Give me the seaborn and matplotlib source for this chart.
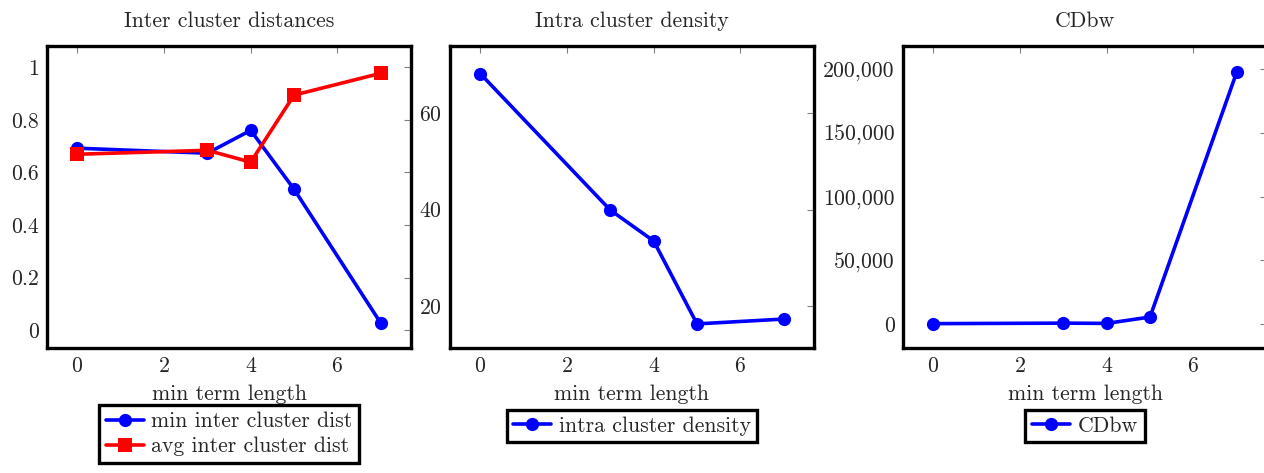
import matplotlib
matplotlib.use("Agg")
import matplotlib.pyplot as plt
from matplotlib.ticker import FuncFormatter, MultipleLocator
import seaborn as sns

# data
term_length = [0, 3, 4, 5, 7]
min_inter_dist = [0.692, 0.673, 0.760, 0.536, 0.027]
avg_inter_dist = [0.669, 0.684, 0.639, 0.894, 0.977]
intra_density = [68.2, 39.9, 33.5, 16.3, 17.3]
cdbw = [300, 700, 500, 5500, 197600]

titles = ["Inter cluster distances", "Intra cluster density", "CDbw"]
xlabel = "min term length"

sns.set_theme(style="white")
plt.rcParams["font.family"] = ["cmr10", "DejaVu Serif"]
plt.rcParams["mathtext.fontset"] = "cm"
plt.rcParams["axes.formatter.use_mathtext"] = True

fig = plt.figure(figsize=(12.64, 4.73), dpi=100)
w, h, b = 0.288, 0.638, 0.2643
axes = [fig.add_axes([0.0372, b, w, h]),
        fig.add_axes([0.356, b, w, h]),
        fig.add_axes([0.7144, b, w, h])]

lw = 2.6
ms = 9.5
FS = 15.7

def style(ax):
    for s in ax.spines.values():
        s.set_linewidth(2.4)
        s.set_color("black")
    ax.tick_params(direction="in", length=5, width=0.8, color="#808080",
                   top=True, right=True, labelsize=FS, pad=6)
    ax.xaxis.set_major_locator(MultipleLocator(2))
    ax.set_xlim(-0.7, 7.7)
    ax.set_xlabel(xlabel, fontsize=FS, labelpad=6)
    ax.set_ylabel("")

def legend(ax, y):
    lg = ax.legend(loc="upper center", bbox_to_anchor=(0.5, y), fontsize=FS,
                   frameon=True, fancybox=False, framealpha=1, borderpad=0.3,
                   handlelength=1.75, handletextpad=0.35, labelspacing=0.25,
                   borderaxespad=0)
    fr = lg.get_frame()
    fr.set_edgecolor("black")
    fr.set_linewidth(2.4)

# panel 1
ax = axes[0]
sns.lineplot(x=term_length, y=min_inter_dist, ax=ax, color="blue", marker="o",
             markersize=ms, markeredgewidth=0, linewidth=lw, label="min inter cluster dist")
sns.lineplot(x=term_length, y=avg_inter_dist, ax=ax, color="red", marker="s",
             markersize=ms, markeredgewidth=0, linewidth=lw, label="avg inter cluster dist")
ax.set_ylim(-0.068, 1.08)
ax.yaxis.set_major_locator(MultipleLocator(0.2))
ax.yaxis.set_major_formatter(FuncFormatter(lambda v, p: "0" if abs(v) < 1e-9 else ("1" if abs(v-1) < 1e-9 else f"{v:.1f}")))
style(ax)
ax.set_title(titles[0], fontsize=FS, pad=14)
legend(ax, -0.19)

# panel 2
ax = axes[1]
sns.lineplot(x=term_length, y=intra_density, ax=ax, color="blue", marker="o",
             markersize=ms, markeredgewidth=0, linewidth=lw, label="intra cluster density")
ax.set_ylim(11.3, 73.9)
ax.yaxis.set_major_locator(MultipleLocator(20))
style(ax)
ax.set_title(titles[1], fontsize=FS, pad=14)
legend(ax, -0.205)

# panel 3
ax = axes[2]
sns.lineplot(x=term_length, y=cdbw, ax=ax, color="blue", marker="o",
             markersize=ms, markeredgewidth=0, linewidth=lw, label="CDbw")
ax.set_ylim(-18800, 218000)
ax.yaxis.set_major_locator(MultipleLocator(50000))
ax.yaxis.set_major_formatter(FuncFormatter(lambda v, p: f"{int(round(v)):,}"))
style(ax)
ax.set_title(titles[2], fontsize=FS, pad=14)
legend(ax, -0.205)

fig.savefig("out.png", dpi=100)
